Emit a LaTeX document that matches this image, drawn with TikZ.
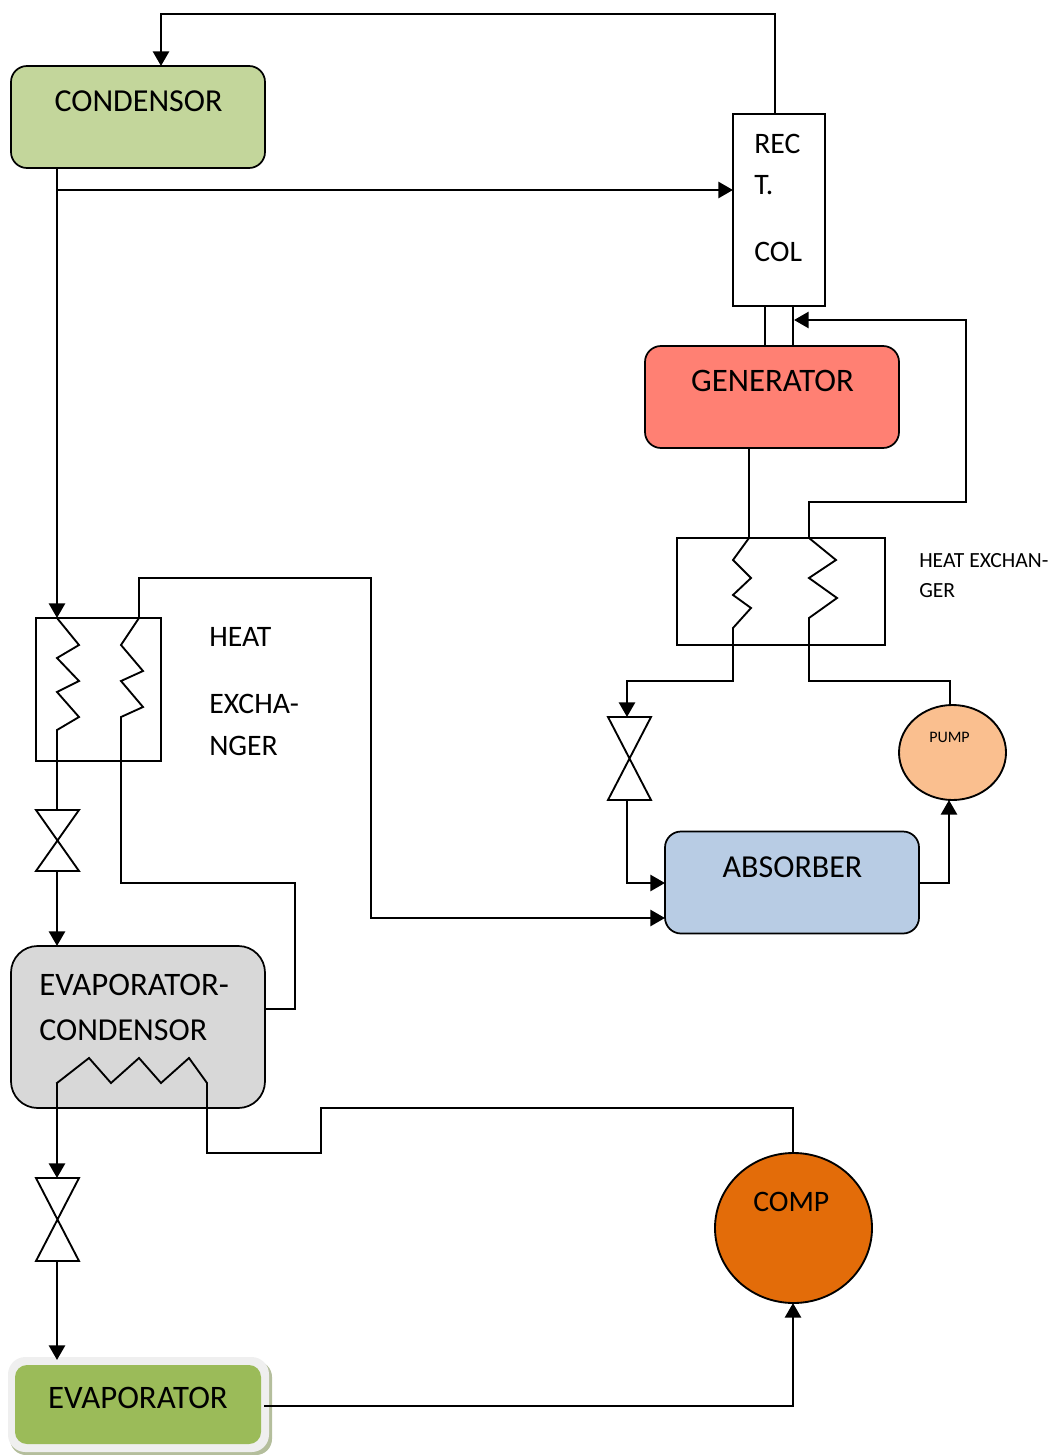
\documentclass[tikz,border=0pt]{standalone}
\usepackage{fontspec}
\setmainfont{Carlito}
\usetikzlibrary{arrows.meta,shapes.geometric}
\definecolor{condc}{HTML}{C3D69B}
\definecolor{genc}{HTML}{FF8073}
\definecolor{absc}{HTML}{B8CCE4}
\definecolor{pumpc}{HTML}{FABF8F}
\definecolor{evcc}{HTML}{D8D8D8}
\definecolor{compc}{HTML}{E36C09}
\definecolor{evac}{HTML}{9BBB59}
\definecolor{framec}{HTML}{EFEFEF}
\definecolor{shadc}{HTML}{B4BE9C}
\tikzset{
  x=0.75pt,y=-0.75pt,
  sz/.style 2 args={minimum width=#1*0.75pt,minimum height=#2*0.75pt,inner sep=0pt,outer sep=0pt},
  unit/.style={draw=black,line width=1.3pt,rounded corners=12pt},
  plainbox/.style={draw=black,line width=1.4pt,fill=none},
  ball/.style={draw=black,line width=1.4pt,ellipse},
  valve/.style={inner sep=0pt,outer sep=0pt},
  pipe/.style={line width=1.4pt,line join=miter,line cap=rect},
  flow/.style={line width=2.1pt,line join=miter,-{Triangle[width=12pt,length=11pt]}},
  big/.style={font=\fontsize{24}{28}\selectfont,inner sep=0pt},
  bigger/.style={font=\fontsize{24.6}{28}\selectfont,inner sep=0pt},
  mid/.style={font=\fontsize{22.3}{26}\selectfont,inner sep=0pt,anchor=west},
  small/.style={font=\fontsize{16.2}{19}\selectfont,inner sep=0pt,anchor=west},
  tiny/.style={font=\fontsize{12}{14}\selectfont,inner sep=0pt},
}
\newcommand{\valveshape}[1]{\draw[pipe] (#1.north west)--(#1.south east)--(#1.south west)--(#1.north east)--cycle;}
\begin{document}
\begin{tikzpicture}
\useasboundingbox (0,0) rectangle (1059,1455);
% units
\node[unit,fill=condc,sz={254}{102}] (cond) at (138,117) {};
\node[unit,fill=genc,sz={254}{102}] (gen) at (772,397) {};
\node[unit,fill=absc,sz={254}{102}] (abs) at (792,882.5) {};
\node[unit,fill=evcc,rounded corners=20pt,sz={254}{162}] (evc) at (138,1027) {};
\fill[shadc,rounded corners=12pt] (10,1361) rectangle (272,1455);
\node[fill=framec,rounded corners=13pt,sz={261}{95}] (evaframe) at (138.5,1404.5) {};
\node[fill=evac,rounded corners=9pt,sz={246}{79}] (eva) at (138,1404.5) {};
\node[ball,fill=pumpc,sz={107}{95}] (pump) at (952.5,752.5) {};
\node[ball,fill=compc,sz={157}{150}] (comp) at (793.5,1228) {};
\node[plainbox,fill=white,sz={92}{192}] (rect) at (779,210) {};
\node[plainbox,sz={208}{107}] (hxb) at (781,591.5) {};
\node[plainbox,sz={125}{143}] (hxa) at (98.5,689.5) {};
% valves
\node[valve,sz={43}{61}] (va) at (57.5,840.5) {};
\node[valve,sz={43}{83}] (vb) at (629.5,758.5) {};
\node[valve,sz={43}{83}] (vc) at (57.5,1219.5) {};
\valveshape{va}\valveshape{vb}\valveshape{vc}
% connectors
\draw[pipe] (775,0 |- rect.north) |- (161,14);
\draw[flow] (161,14) -- (161,0 |- cond.north);
\draw[flow] (57,0 |- cond.south) -- (57,0 |- hxa.north);
\draw[flow] (57,190) -- (rect.west |- 0,190);
\draw[pipe] (765,0 |- rect.south) -- (765,0 |- gen.north);
\draw[pipe] (793,0 |- rect.south) -- (793,0 |- gen.north);
\draw[pipe] (809,0 |- hxb.north) -- (809,502) -- (966,502) -- (966,320);
\draw[flow] (966,320) -- (794,320);
\draw[pipe] (749,0 |- gen.south) -- (749,0 |- hxb.north)
  -- (733,560) -- (751,578) -- (733,595) -- (751,608) -- (733,628) -- (733,681) -- (627,681);
\draw[flow] (627,681) -- (627,0 |- vb.north);
\draw[pipe] (809,0 |- hxb.north) -- (836,560) -- (809,578) -- (837,598) -- (809,618) -- (809,681) -- (950,681) -- (950,0 |- pump.north);
\draw[pipe] (627,0 |- vb.south) -- (627,883);
\draw[flow] (627,883) -- (abs.west |- 0,883);
\draw[pipe] (139,0 |- hxa.north) -- (139,578) -- (371,578) -- (371,918);
\draw[flow] (371,918) -- (abs.west |- 0,918);
\draw[pipe] (abs.east |- 0,883) -- (949,883);
\draw[flow] (949,883) -- (949,800);
\draw[pipe] (57,0 |- hxa.north) -- (79,645) -- (57,658) -- (79,681) -- (57,692) -- (79,717) -- (57,730) -- (57,0 |- va.north);
\draw[flow] (57,0 |- va.south) -- (57,0 |- evc.north);
\draw[pipe] (139,0 |- hxa.north) -- (121,645) -- (143,671) -- (121,681) -- (143,707) -- (121,717) -- (121,883) -- (295,883) -- (295,1009) -- (evc.east |- 0,1009);
\draw[pipe] (57,1083) -- (89,1058) -- (111,1083) -- (139,1058) -- (161,1083) -- (189,1058) -- (207,1083) -- (207,1153) -- (321,1153) -- (321,1108) -- (793,1108) -- (793,0 |- comp.north);
\draw[flow] (57,1083) -- (57,0 |- vc.north);
\draw[flow] (57,0 |- vc.south) -- (57,1360);
\draw[pipe] (265,1406) -- (793,1406);
\draw[flow] (793,1406) -- (793,0 |- comp.south);
% labels
\node[big] (tcond) at (138.5,101) {CONDENSOR};
\node[bigger] (tgen) at (772.5,381) {GENERATOR};
\node[big] (tabs) at (792.5,867) {ABSORBER};
\node[bigger,anchor=west] (tevc1) at (39,985) {EVAPORATOR-};
\node[big,anchor=west] (tevc2) at (39,1030) {CONDENSOR};
\node[bigger] (teva) at (138,1398) {EVAPORATOR};
\node[mid] (tcomp) at (753,1202) {COMP};
\node[mid] (tr1) at (754,144) {REC};
\node[mid] (tr2) at (754,185) {T.};
\node[mid] (tr3) at (754,252) {COL};
\node[mid] (th1) at (209,637) {HEAT};
\node[mid] (th2) at (209,704) {EXCHA-};
\node[mid] (th3) at (209,746) {NGER};
\node[small] (ti1) at (919,561) {HEAT EXCHAN-};
\node[small] (ti2) at (919,591) {GER};
\node[tiny] (tpump) at (949.5,737) {PUMP};
\end{tikzpicture}
\end{document}
